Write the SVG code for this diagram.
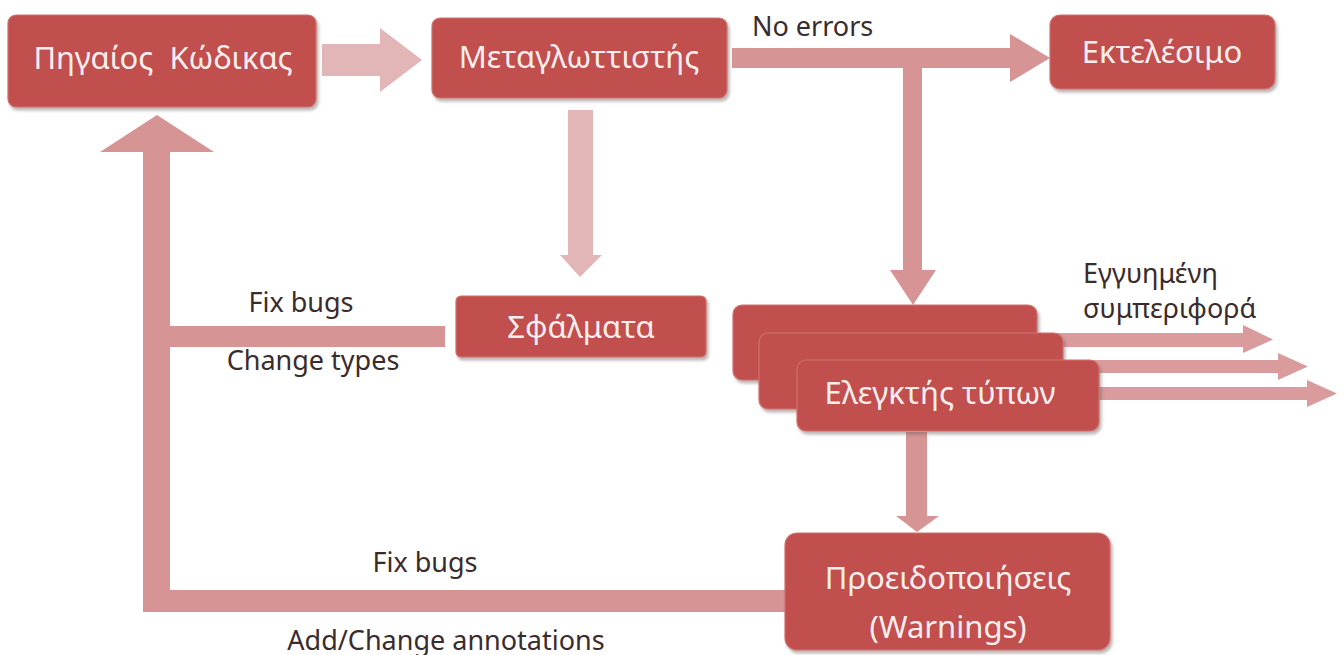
<svg xmlns="http://www.w3.org/2000/svg" width="1344" height="655" viewBox="0 0 1344 655">
  <defs>
    <filter id="sh" x="-10%" y="-10%" width="125%" height="135%">
      <feDropShadow dx="2" dy="3" stdDeviation="1.5" flood-color="#6b5a5a" flood-opacity="0.45"/>
    </filter>
    <style>
      .box { fill: #c0504d; stroke: #d0726f; stroke-width: 1.2; filter: url(#sh); }
      .bt { font-family: "Noto Sans", "Open Sans", sans-serif; font-size: 31px; fill: #fbeeee; text-anchor: middle; }
      .lb { font-family: "Noto Sans", "Open Sans", sans-serif; font-size: 27px; fill: #3a2c2c; }
      .mid { text-anchor: middle; }
      .ar { fill: #d69494; }
      .arl { fill: #e2b6b6; }
      .ar2 { fill: #d99b9b; }
    </style>
  </defs>
  <rect width="1344" height="655" fill="#ffffff"/>

  <g id="connectors">
    <!-- Source -> Compiler -->
    <polygon class="arl" points="322,44 380,44 380,28 422,60 380,92 380,76 322,76"/>
    <!-- Compiler -> Errors -->
    <polygon class="arl" points="568,110 593,110 593,255 602,255 580,277 560,255 568,255"/>
    <!-- No errors -> Executable -->
    <polygon class="ar" points="732,48 1010,48 1010,34 1050,58 1010,82 1010,68 732,68"/>
    <!-- branch down to type checker -->
    <polygon class="ar" points="903,68 922,68 922,270 936,270 913,305 890,270 903,270"/>
    <!-- Errors -> back -->
    <rect class="ar" x="145" y="326" width="300" height="21"/>
    <!-- left vertical with up arrow -->
    <polygon class="ar" points="143,612 143,152 100,152 157,115 214,152 170,152 170,612"/>
    <!-- bottom horizontal from warnings -->
    <rect class="ar" x="143" y="590" width="645" height="22"/>
    <!-- type checker -> warnings -->
    <polygon class="ar" points="906,432 927,432 927,516 939,516 917,532 896,516 906,516"/>
    <!-- guaranteed behaviour arrows -->
    <polygon class="ar2" points="1036,333 1243,333 1243,325 1273,339.5 1243,353 1243,347 1036,347"/>
    <polygon class="ar2" points="1062,360 1278,360 1278,353 1308,366.5 1278,380 1278,373 1062,373"/>
    <polygon class="ar2" points="1099,387 1307,387 1307,380 1337,393.5 1307,407 1307,400 1099,400"/>
  </g>

  <g id="node-source">
    <rect class="box" x="8" y="15" width="308" height="92" rx="8"/>
    <text class="bt" x="163" y="69" xml:space="preserve">Πηγαίος  Κώδικας</text>
  </g>
  <g id="node-compiler">
    <rect class="box" x="432" y="18" width="295" height="80" rx="8"/>
    <text class="bt" x="579" y="68">Μεταγλωττιστής</text>
  </g>
  <g id="node-executable">
    <rect class="box" x="1050" y="15" width="225" height="74" rx="10"/>
    <text class="bt" x="1162" y="63">Εκτελέσιμο</text>
  </g>
  <g id="node-errors">
    <rect class="box" x="456" y="296" width="250" height="61" rx="5"/>
    <text class="bt" x="581" y="338">Σφάλματα</text>
  </g>
  <g id="node-typechecker">
    <rect class="box" x="733" y="305" width="304" height="75" rx="9"/>
    <rect class="box" x="759" y="333" width="304" height="76" rx="9"/>
    <rect class="box" x="797" y="360" width="302" height="71" rx="9"/>
    <text class="bt" x="940" y="404">Ελεγκτής τύπων</text>
  </g>
  <g id="node-warnings">
    <rect class="box" x="785" y="533" width="325" height="117" rx="12"/>
    <text class="bt" x="948" y="589">Προειδοποιήσεις</text>
    <text class="bt" x="948" y="638">(Warnings)</text>
  </g>

  <g id="labels">
    <text class="lb" x="752" y="36">No errors</text>
    <text class="lb" x="1083" y="283">Εγγυημένη</text>
    <text class="lb" x="1083" y="318">συμπεριφορά</text>
    <text class="lb mid" x="301" y="312">Fix bugs</text>
    <text class="lb mid" x="313" y="370">Change types</text>
    <text class="lb mid" x="425" y="572">Fix bugs</text>
    <text class="lb mid" x="446" y="650">Add/Change annotations</text>
  </g>
</svg>
